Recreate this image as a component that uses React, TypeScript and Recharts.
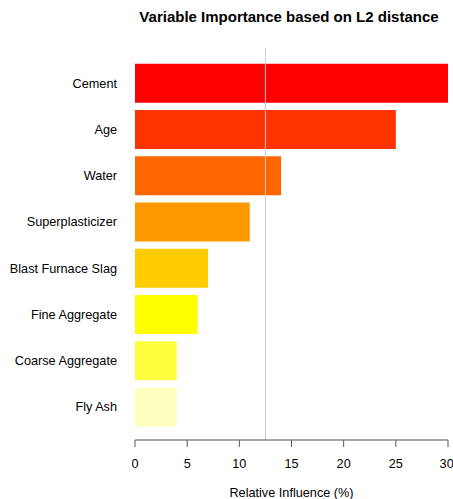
import React from 'react';
import { BarChart, Bar, XAxis, YAxis, Cell, ReferenceLine } from 'recharts';

const variables = ['Cement', 'Age', 'Water', 'Superplasticizer', 'Blast Furnace Slag', 'Fine Aggregate', 'Coarse Aggregate', 'Fly Ash'];
const influence = [30.0, 25.0, 14.0, 11.0, 7.0, 6.0, 4.0, 4.0];
const barColors = ['#FF0000', '#FF3300', '#FF6600', '#FF9900', '#FFCC00', '#FFFF00', '#FFFF40', '#FFFFBF'];
const xTicks = [0, 5, 10, 15, 20, 25, 30];
const referenceValue = 12.5;

const data = variables.map((name, i) => ({ name, value: influence[i] }));

const FONT = '"Liberation Sans", Arial, sans-serif';

export default function App() {
  return (
    <div style={{ position: 'absolute', left: 0, top: 0, width: 453, height: 499, background: '#fff', fontFamily: FONT }}>
      <svg width={453} height={499} style={{ position: 'absolute', left: 0, top: 0, pointerEvents: 'none' }}>
        <text x={289} y={22} textAnchor="middle" fontFamily={FONT} fontWeight="bold" fontSize={15} fill="#000">
          Variable Importance based on L2 distance
        </text>
      </svg>
      <div style={{ position: 'absolute', left: 0, top: 0 }}>
        <BarChart
          width={453}
          height={499}
          data={data}
          layout="vertical"
          margin={{ top: 48, right: 5, bottom: 0, left: 0 }}
          barCategoryGap="8.33%"
        >
          <XAxis
            type="number"
            domain={[0, 30]}
            ticks={xTicks}
            allowDataOverflow
            height={59}
            tickSize={7}
            tickMargin={12}
            stroke="#333"
            tick={{ fill: '#000', fontSize: 12.7, fontFamily: FONT }}
            axisLine={{ stroke: '#555' }}
            tickLine={{ stroke: '#555' }}
            label={{ value: 'Relative Influence (%)', position: 'insideBottom', offset: 2, fill: '#000', fontSize: 12.7, fontFamily: FONT }}
          />
          <YAxis
            type="category"
            dataKey="name"
            width={135}
            axisLine={false}
            tickLine={false}
            tickSize={0}
            tickMargin={18}
            padding={{ top: 12, bottom: 10 }}
            tick={{ fill: '#000', fontSize: 12.7, fontFamily: FONT }}
            interval={0}
          />
          <Bar dataKey="value" isAnimationActive={false}>
            {data.map((d, i) => (
              <Cell key={d.name} fill={barColors[i]} />
            ))}
          </Bar>
          <ReferenceLine x={referenceValue} stroke="#cccccc" strokeWidth={1} />
        </BarChart>
      </div>
    </div>
  );
}
